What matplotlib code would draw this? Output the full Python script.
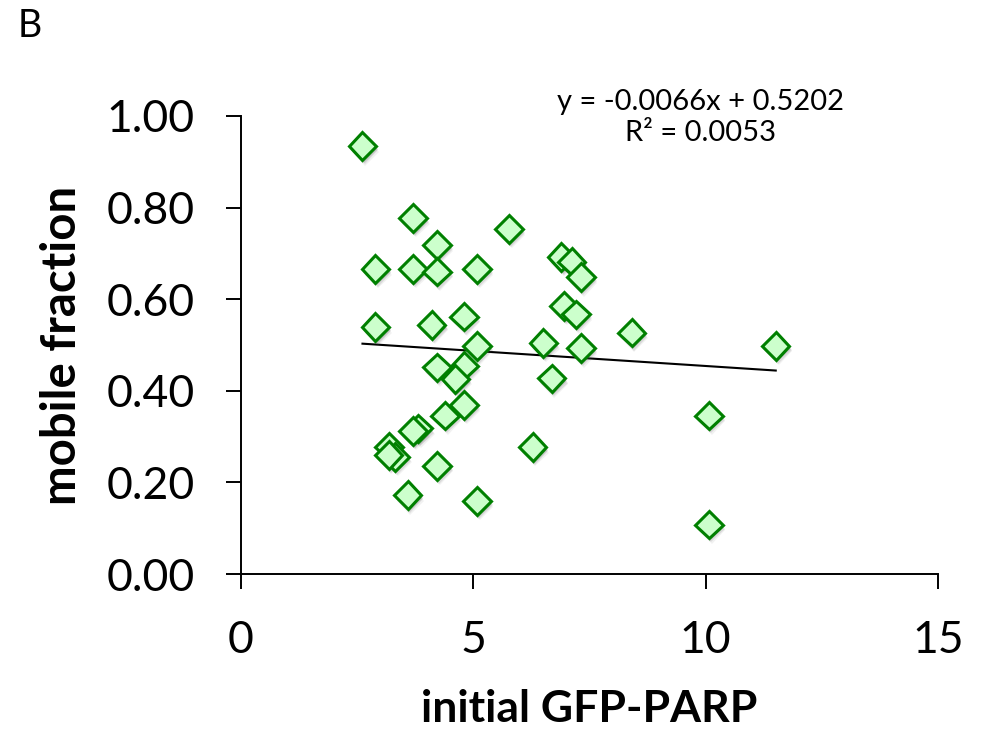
import matplotlib
matplotlib.use("Agg")
import matplotlib.pyplot as plt
import matplotlib.patheffects as pe
import numpy as np

plt.rcParams['font.family'] = ['Lato', 'DejaVu Sans']

# initial GFP-PARP intensity vs. mobile fraction
gfp_parp = [2.62, 3.71, 5.77, 4.22, 2.90, 3.71, 4.22, 5.08,
            6.90, 7.12, 7.32, 6.96, 7.21, 2.90, 4.11, 4.80,
            8.41, 6.51, 7.32, 5.08, 11.51, 4.22, 4.81, 4.62,
            6.69, 4.80, 4.39, 3.82, 3.71, 3.19, 3.32, 3.18,
            4.22, 6.28, 3.59, 5.08, 10.07, 10.07]
mobile_fraction = [0.934, 0.777, 0.753, 0.718, 0.666, 0.666, 0.660, 0.666,
                   0.692, 0.682, 0.648, 0.585, 0.567, 0.539, 0.544, 0.562,
                   0.527, 0.504, 0.493, 0.498, 0.498, 0.451, 0.455, 0.426,
                   0.427, 0.369, 0.346, 0.318, 0.312, 0.278, 0.256, 0.260,
                   0.236, 0.277, 0.172, 0.159, 0.346, 0.108]

# linear trendline
slope = -0.0066
intercept = 0.5202
r_squared = 0.0053

x_ticks = [0, 5, 10, 15]
y_ticks = [0.0, 0.2, 0.4, 0.6, 0.8, 1.0]

fig = plt.figure(figsize=(9.86, 7.36), dpi=100)
ax = fig.add_axes([0.2441, 0.2201, 0.7072, 0.6223])

shadow = [pe.SimplePatchShadow(offset=(1.0, -2.0), shadow_rgbFace='0.35', alpha=0.18),
          pe.SimplePatchShadow(offset=(1.5, -3.0), shadow_rgbFace='0.35', alpha=0.14),
          pe.SimplePatchShadow(offset=(2.0, -4.0), shadow_rgbFace='0.35', alpha=0.08),
          pe.Normal()]

ax.plot(gfp_parp, mobile_fraction, linestyle='none', marker='D',
        markersize=14, markerfacecolor='#CCFFCC', markeredgecolor='#008000',
        markeredgewidth=2.2, zorder=3, path_effects=shadow)

xs = np.array([min(gfp_parp), max(gfp_parp)])
ax.plot(xs, slope * xs + intercept, color='black', linewidth=1.5, zorder=2)

ax.set_xlim(0, 15)
ax.set_ylim(0, 1.0)
ax.set_xticks(x_ticks)
ax.set_yticks(y_ticks)
ax.set_xticklabels([str(v) for v in x_ticks])
ax.set_yticklabels([f"{v:.2f}" for v in y_ticks])

for side in ['top', 'right']:
    ax.spines[side].set_visible(False)
for side in ['left', 'bottom']:
    ax.spines[side].set_linewidth(1.4)
    ax.spines[side].set_color('black')

ax.tick_params(axis='both', direction='out', length=11, width=1.4,
               labelsize=32, pad=22, colors='black')

ax.set_xlabel('initial GFP-PARP', fontsize=32, fontweight='bold', labelpad=20)
ax.set_ylabel('mobile fraction', fontsize=34, fontweight='bold', labelpad=16)

ax.text(0.659, 0.996, f"y = {slope:.4f}x + {intercept:.4f}\nR\u00b2 = {r_squared:.4f}",
        transform=ax.transAxes, ha='center', va='center', fontsize=21,
        linespacing=1.25)

fig.text(0.030, 0.965, 'B', fontsize=27, ha='center', va='center')

fig.savefig('out.png', dpi=100)
